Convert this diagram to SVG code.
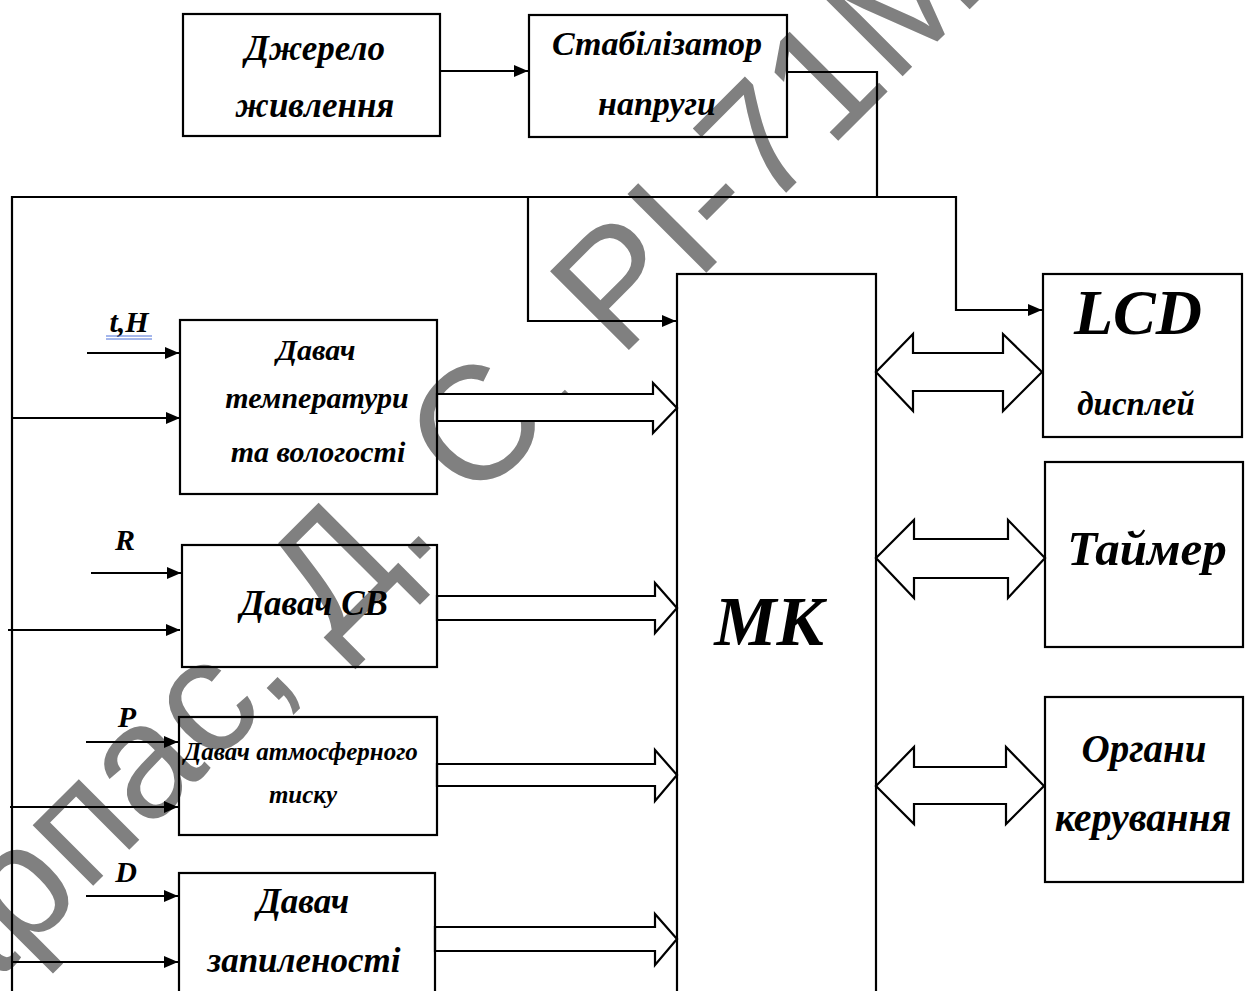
<svg xmlns="http://www.w3.org/2000/svg" width="1247" height="991" viewBox="0 0 1247 991">
<style>
.box{fill:none;stroke:#000;stroke-width:2.2}
.ln{fill:none;stroke:#000;stroke-width:2.2}
.fat{fill:#fff;stroke:#000;stroke-width:2.2;stroke-linejoin:miter}
.t{font-family:"Liberation Serif","Times New Roman",serif;font-weight:bold;font-style:italic;fill:#000;text-anchor:middle}
.wm{font-family:"Liberation Sans",Arial,sans-serif;fill:#808080}
</style>
<defs>
<marker id="ah" markerUnits="userSpaceOnUse" markerWidth="14" markerHeight="12" refX="14" refY="6" orient="auto">
<path d="M0,0 L14,6 L0,12 z" fill="#000"/>
</marker>
</defs>
<rect width="1247" height="991" fill="#fff"/>
<text class="wm" font-size="162" transform="translate(-109,1088) rotate(-45)">Карпас, Д. С. РІ-71М</text>

<g id="connectors">
<path class="ln" d="M440,71 H528" marker-end="url(#ah)"/>
<path class="ln" d="M787,72 H877 V197"/>
<path class="ln" d="M877,197 H12 V991"/>
<path class="ln" d="M877,197 H956 V310 H1042" marker-end="url(#ah)"/>
<path class="ln" d="M528,197 V321 H676" marker-end="url(#ah)"/>
<path class="ln" d="M12,418 H180" marker-end="url(#ah)"/>
<path class="ln" d="M8,630 H180" marker-end="url(#ah)"/>
<path class="ln" d="M10,807 H178" marker-end="url(#ah)"/>
<path class="ln" d="M12,962 H178" marker-end="url(#ah)"/>
<path class="ln" d="M87,353 H179" marker-end="url(#ah)"/>
<path class="ln" d="M91,573 H181" marker-end="url(#ah)"/>
<path class="ln" d="M86,742 H178" marker-end="url(#ah)"/>
<path class="ln" d="M86,896 H178" marker-end="url(#ah)"/>
<polygon class="fat" points="437,394 653,394 653,383 677,408 653,433 653,421 437,421"/>
<polygon class="fat" points="437,596 655,596 655,583 677,608 655,633 655,620 437,620"/>
<polygon class="fat" points="437,764 655,764 655,750 677,775 655,801 655,786 437,786"/>
<polygon class="fat" points="435,927 655,927 655,914 677,939 655,965 655,951 435,951"/>
<polygon class="fat" points="876,372 913,334 913,353 1003,353 1003,334 1042,372 1003,411 1003,391 913,391 913,411"/>
<polygon class="fat" points="876,558 914,520 914,539 1008,539 1008,520 1045,558 1008,598 1008,578 914,578 914,598"/>
<polygon class="fat" points="876,786 914,747 914,767 1006,767 1006,747 1044,786 1006,824 1006,804 914,804 914,824"/>
</g>

<g id="labels">
<text class="t" x="129" y="332" font-size="30">t,H</text>
<line x1="106" y1="336" x2="152" y2="336" stroke="#4a6fd8" stroke-width="1"/>
<line x1="106" y1="339" x2="152" y2="339" stroke="#4a6fd8" stroke-width="1"/>
<text class="t" x="125" y="550" font-size="30">R</text>
<text class="t" x="127" y="727" font-size="30">P</text>
<text class="t" x="126" y="882" font-size="30">D</text>
</g>

<g id="power">
<rect class="box" x="183" y="14" width="257" height="122"/>
<text class="t" x="315" y="60" font-size="35">Джерело</text>
<text class="t" x="315" y="117" font-size="35">живлення</text>
</g>
<g id="stabilizer">
<rect class="box" x="529" y="15" width="258" height="122"/>
<text class="t" x="657" y="55" font-size="34">Стабілізатор</text>
<text class="t" x="657" y="115" font-size="34">напруги</text>
</g>
<g id="sensor-temp">
<rect class="box" x="180" y="320" width="257" height="174"/>
<text class="t" x="316" y="360" font-size="30">Давач</text>
<text class="t" x="317" y="408" font-size="30">температури</text>
<text class="t" x="318" y="462" font-size="30">та вологості</text>
</g>
<g id="sensor-sv">
<rect class="box" x="182" y="545" width="255" height="122"/>
<text class="t" x="314" y="615" font-size="35">Давач СВ</text>
</g>
<g id="sensor-pressure">
<rect class="box" x="179" y="717" width="258" height="118"/>
<text class="t" x="301" y="760" font-size="25">Давач атмосферного</text>
<text class="t" x="303" y="803" font-size="25">тиску</text>
</g>
<g id="sensor-dust">
<rect class="box" x="179" y="873" width="256" height="130"/>
<text class="t" x="303" y="913" font-size="35">Давач</text>
<text class="t" x="304" y="972" font-size="35">запиленості</text>
</g>
<g id="mk">
<rect class="box" x="677" y="274" width="199" height="730"/>
<text class="t" x="769" y="645" font-size="70">МК</text>
</g>
<g id="lcd">
<rect class="box" x="1043" y="274" width="199" height="163"/>
<text class="t" x="1138" y="334" font-size="64">LCD</text>
<text class="t" x="1136" y="415" font-size="33">дисплей</text>
</g>
<g id="timer">
<rect class="box" x="1045" y="462" width="198" height="185"/>
<text class="t" x="1147" y="565" font-size="49">Таймер</text>
</g>
<g id="controls">
<rect class="box" x="1045" y="697" width="198" height="185"/>
<text class="t" x="1144" y="762" font-size="39">Органи</text>
<text class="t" x="1143" y="831" font-size="40">керування</text>
</g>
</svg>
